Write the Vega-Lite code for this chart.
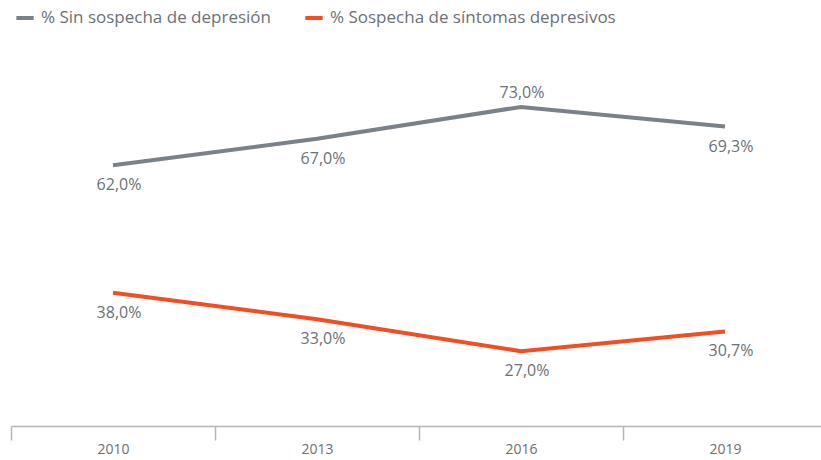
{
  "$schema": "https://vega.github.io/schema/vega-lite/v6.json",
  "width": 816,
  "height": 386,
  "autosize": {"type": "none"},
  "padding": {"left": 11, "top": 40, "right": 0, "bottom": 34},
  "background": "white",
  "config": {"view": {"stroke": null}, "font": "Open Sans"},
  "data": {"values": [
    {"year": "2010", "serie": "% Sin sospecha de depresión", "value": 62.0, "label": "62,0%"},
    {"year": "2013", "serie": "% Sin sospecha de depresión", "value": 67.0, "label": "67,0%"},
    {"year": "2016", "serie": "% Sin sospecha de depresión", "value": 73.0, "label": "73,0%"},
    {"year": "2019", "serie": "% Sin sospecha de depresión", "value": 69.3, "label": "69,3%"},
    {"year": "2010", "serie": "% Sospecha de síntomas depresivos", "value": 38.0, "label": "38,0%"},
    {"year": "2013", "serie": "% Sospecha de síntomas depresivos", "value": 33.0, "label": "33,0%"},
    {"year": "2016", "serie": "% Sospecha de síntomas depresivos", "value": 27.0, "label": "27,0%"},
    {"year": "2019", "serie": "% Sospecha de síntomas depresivos", "value": 30.7, "label": "30,7%"}
  ]},
  "encoding": {
    "x": {
      "field": "year", "type": "ordinal",
      "scale": {"type": "band", "paddingInner": 0, "paddingOuter": 0},
      "axis": {
        "title": null, "labelAngle": 0, "tickBand": "extent",
        "domainColor": "#b5b5b5", "domainWidth": 1.5, "tickColor": "#b5b5b5", "tickWidth": 1.5,
        "tickSize": 14, "labelPadding": 2, "labelFontSize": 14, "labelColor": "#6e6e6e",
        "labelFont": "Open Sans"
      }
    },
    "y": {
      "field": "value", "type": "quantitative",
      "scale": {"domain": [12.9, 85.6], "zero": false, "nice": false},
      "axis": null
    }
  },
  "layer": [
    {
      "mark": {"type": "line", "strokeWidth": 4},
      "encoding": {
        "color": {
          "field": "serie", "type": "nominal",
          "scale": {"domain": ["% Sin sospecha de depresión", "% Sospecha de síntomas depresivos"], "range": ["#7b8188", "#f04e23"]},
          "legend": {
            "title": null, "orient": "none", "direction": "horizontal",
            "legendX": 3, "legendY": -33,
            "symbolType": "stroke", "symbolStrokeWidth": 4, "symbolSize": 300,
            "labelFontSize": 17, "labelColor": "#6b7177", "labelFont": "Open Sans",
            "labelLimit": 500, "labelOffset": 5, "columnPadding": 26
          }
        }
      }
    },
    {
      "transform": [{"filter": "datum.value != 73"}],
      "mark": {"type": "text", "dy": 20, "dx": 6, "fontSize": 16, "color": "#6b7177", "font": "Open Sans"},
      "encoding": {"text": {"field": "label"}}
    },
    {
      "transform": [{"filter": "datum.value == 73"}],
      "mark": {"type": "text", "dy": -14, "dx": 1, "fontSize": 16, "color": "#6b7177", "font": "Open Sans"},
      "encoding": {"text": {"field": "label"}}
    }
  ]
}
